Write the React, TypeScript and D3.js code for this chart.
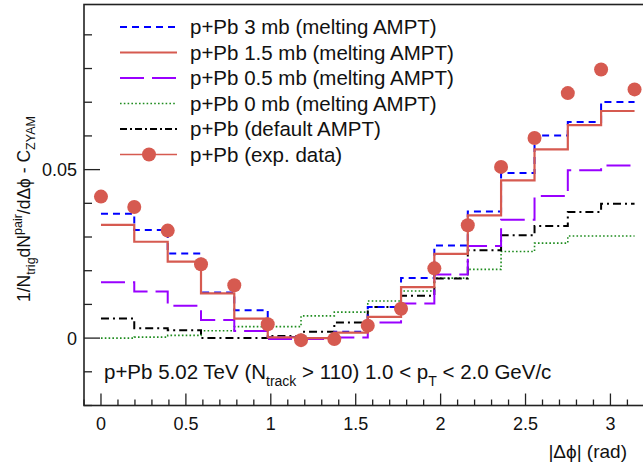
import React from 'react';
import * as d3 from 'd3';

const W = 643;
const H = 464;

// bin edges in |dphi| (16 bins of pi/16); exp. points sit on the edges
const phiEdges = [0, 0.196, 0.393, 0.589, 0.785, 0.982, 1.178, 1.374, 1.571, 1.767, 1.963, 2.16, 2.356, 2.553, 2.749, 2.945, 3.142];

const melt3mb = [0.0369, 0.0321, 0.0251, 0.0135, 0.0083, 0.0003, 0.0, 0.0019, 0.0092, 0.0178, 0.0275, 0.0376, 0.049, 0.0601, 0.0641, 0.0701];
const melt15mb = [0.0336, 0.0286, 0.0227, 0.0133, 0.0058, 0.0002, 0.0, 0.0016, 0.0063, 0.0151, 0.025, 0.0364, 0.0468, 0.056, 0.0632, 0.0674];
const melt05mb = [0.0166, 0.0138, 0.0096, 0.0054, 0.0021, -0.0003, -0.0003, 0.0002, 0.0046, 0.0103, 0.0189, 0.0273, 0.0351, 0.0422, 0.0498, 0.0512];
const melt0mb = [0.0, 0.0003, 0.0008, 0.0022, 0.0034, 0.0034, 0.0066, 0.0077, 0.011, 0.014, 0.0178, 0.0204, 0.0257, 0.0282, 0.0303, 0.0303];
const defaultAmpt = [0.0058, 0.0029, 0.0023, 0.0, 0.0, 0.0006, 0.0019, 0.0046, 0.0092, 0.0126, 0.0177, 0.0261, 0.0305, 0.0333, 0.0374, 0.0399];
const expData = [0.042, 0.0389, 0.0319, 0.0219, 0.0157, 0.0041, -0.0006, -0.0003, 0.0037, 0.0087, 0.0207, 0.0335, 0.0508, 0.0594, 0.0727, 0.0797, 0.0738];

const legendLabels = [
  'p+Pb 3 mb (melting AMPT)',
  'p+Pb 1.5 mb (melting AMPT)',
  'p+Pb 0.5 mb (melting AMPT)',
  'p+Pb 0 mb (melting AMPT)',
  'p+Pb (default AMPT)',
  'p+Pb (exp. data)',
];
const xTickLabels = [0, 0.5, 1, 1.5, 2, 2.5, 3];
const yTickLabels = [0, 0.05];

const FONT = '"Liberation Sans", Arial, sans-serif';
const RED = '#d65a50';

const x = d3.scaleLinear().domain([-0.1, 3.2]).range([84, 644.4]);
const y = d3.scaleLinear().domain([-0.02, 0.099]).range([405.5, 4.5]);

const stepLine = d3.line<[number, number]>()
  .x(d => x(d[0]))
  .y(d => y(d[1]))
  .curve(d3.curveStepAfter);

function stepPath(vals: number[]) {
  const pts: [number, number][] = vals.map((v, i) => [phiEdges[i], v]);
  pts.push([phiEdges[phiEdges.length - 1], vals[vals.length - 1]]);
  return stepLine(pts) || '';
}

const series = [
  { vals: melt0mb, color: '#1e8c1e', width: 1.6, dash: '1.6,2.2' },
  { vals: defaultAmpt, color: '#000000', width: 2, dash: '8,4,2,4' },
  { vals: melt05mb, color: '#9900ff', width: 2, dash: '24,8' },
  { vals: melt3mb, color: '#0000ff', width: 2, dash: '7,5' },
  { vals: melt15mb, color: RED, width: 2.2, dash: undefined },
];

const legendStyles = [
  { color: '#0000ff', width: 2, dash: '7,5' },
  { color: RED, width: 2.2, dash: undefined },
  { color: '#9900ff', width: 2, dash: '24,8' },
  { color: '#1e8c1e', width: 1.6, dash: '1.6,2.2' },
  { color: '#000000', width: 2, dash: '7,3,2,3' },
  { color: RED, width: 1.5, dash: undefined },
];

export default function App() {
  const frame = { left: 84, top: 4.5, right: 644.4, bottom: 405.5 };
  const xMinor = d3.range(-1, 33).map(i => i / 10);
  const yMinor = d3.range(-2, 10).map(i => i / 100);

  return (
    <svg width={W} height={H} style={{ position: 'absolute', left: 0, top: 0, background: '#fff' }}
      fontFamily={FONT}>
      <rect x={0} y={0} width={W} height={H} fill="#fff" />

      {/* histograms */}
      {series.map((s, i) => (
        <path key={i} d={stepPath(s.vals)} fill="none" stroke={s.color}
          strokeWidth={s.width} strokeDasharray={s.dash} />
      ))}

      {/* exp data */}
      {expData.map((v, i) => (
        <circle key={i} cx={x(phiEdges[i])} cy={y(v)} r={7} fill={RED} />
      ))}

      {/* frame */}
      <rect x={frame.left} y={frame.top} width={frame.right - frame.left}
        height={frame.bottom - frame.top} fill="none" stroke="#222" strokeWidth={1.6} />

      {/* x ticks */}
      {xMinor.map((t, i) => {
        const major = Math.abs(t * 2 - Math.round(t * 2)) < 1e-6;
        return <line key={i} x1={x(t)} x2={x(t)} y1={frame.bottom} y2={frame.bottom - (major ? 12 : 6)}
          stroke="#222" strokeWidth={1.3} />;
      })}
      {xTickLabels.map(t => (
        <text key={t} x={x(t)} y={430} fontSize={18} textAnchor="middle" fill="#111">{t}</text>
      ))}
      <text x={627} y={458} fontSize={19} textAnchor="end" fill="#111">|Δϕ| (rad)</text>

      {/* y ticks */}
      {yMinor.map((t, i) => {
        const major = Math.abs(t * 20 - Math.round(t * 20)) < 1e-6;
        return <line key={i} x1={frame.left} x2={frame.left + (major ? 16 : 8)} y1={y(t)} y2={y(t)}
          stroke="#222" strokeWidth={1.3} />;
      })}
      {yTickLabels.map(t => (
        <text key={t} x={77} y={y(t) + 6.5} fontSize={18} textAnchor="end" fill="#111">{t}</text>
      ))}

      {/* y title */}
      <text transform="translate(30,302) rotate(-90)" fontSize={17.5} fill="#111">
        <tspan>1/N</tspan>
        <tspan fontSize={12.5} dy={5}>trig</tspan>
        <tspan dy={-5}>dN</tspan>
        <tspan fontSize={12.5} dy={-8}>pair</tspan>
        <tspan dy={8}>/dΔϕ - C</tspan>
        <tspan fontSize={12.5} dy={5}>ZYAM</tspan>
      </text>

      {/* legend */}
      {legendLabels.map((lab, i) => {
        const cy = 27 + i * 25.5;
        const st = legendStyles[i];
        return (
          <g key={i}>
            <line x1={120} x2={177} y1={cy} y2={cy} stroke={st.color} strokeWidth={st.width}
              strokeDasharray={st.dash} />
            {i === 5 && <circle cx={149} cy={cy} r={7} fill={RED} />}
            <text x={190} y={cy + 7} fontSize={20.5} fill="#111">{lab}</text>
          </g>
        );
      })}

      {/* annotation */}
      <text x={104} y={379} fontSize={20.5} fill="#111">
        <tspan>p+Pb 5.02 TeV (N</tspan>
        <tspan fontSize={14} dy={7}>track</tspan>
        <tspan dy={-7}> {'>'} 110) 1.0 {'<'} p</tspan>
        <tspan fontSize={14} dy={7}>T</tspan>
        <tspan dy={-7}> {'<'} 2.0 GeV/c</tspan>
      </text>
    </svg>
  );
}
